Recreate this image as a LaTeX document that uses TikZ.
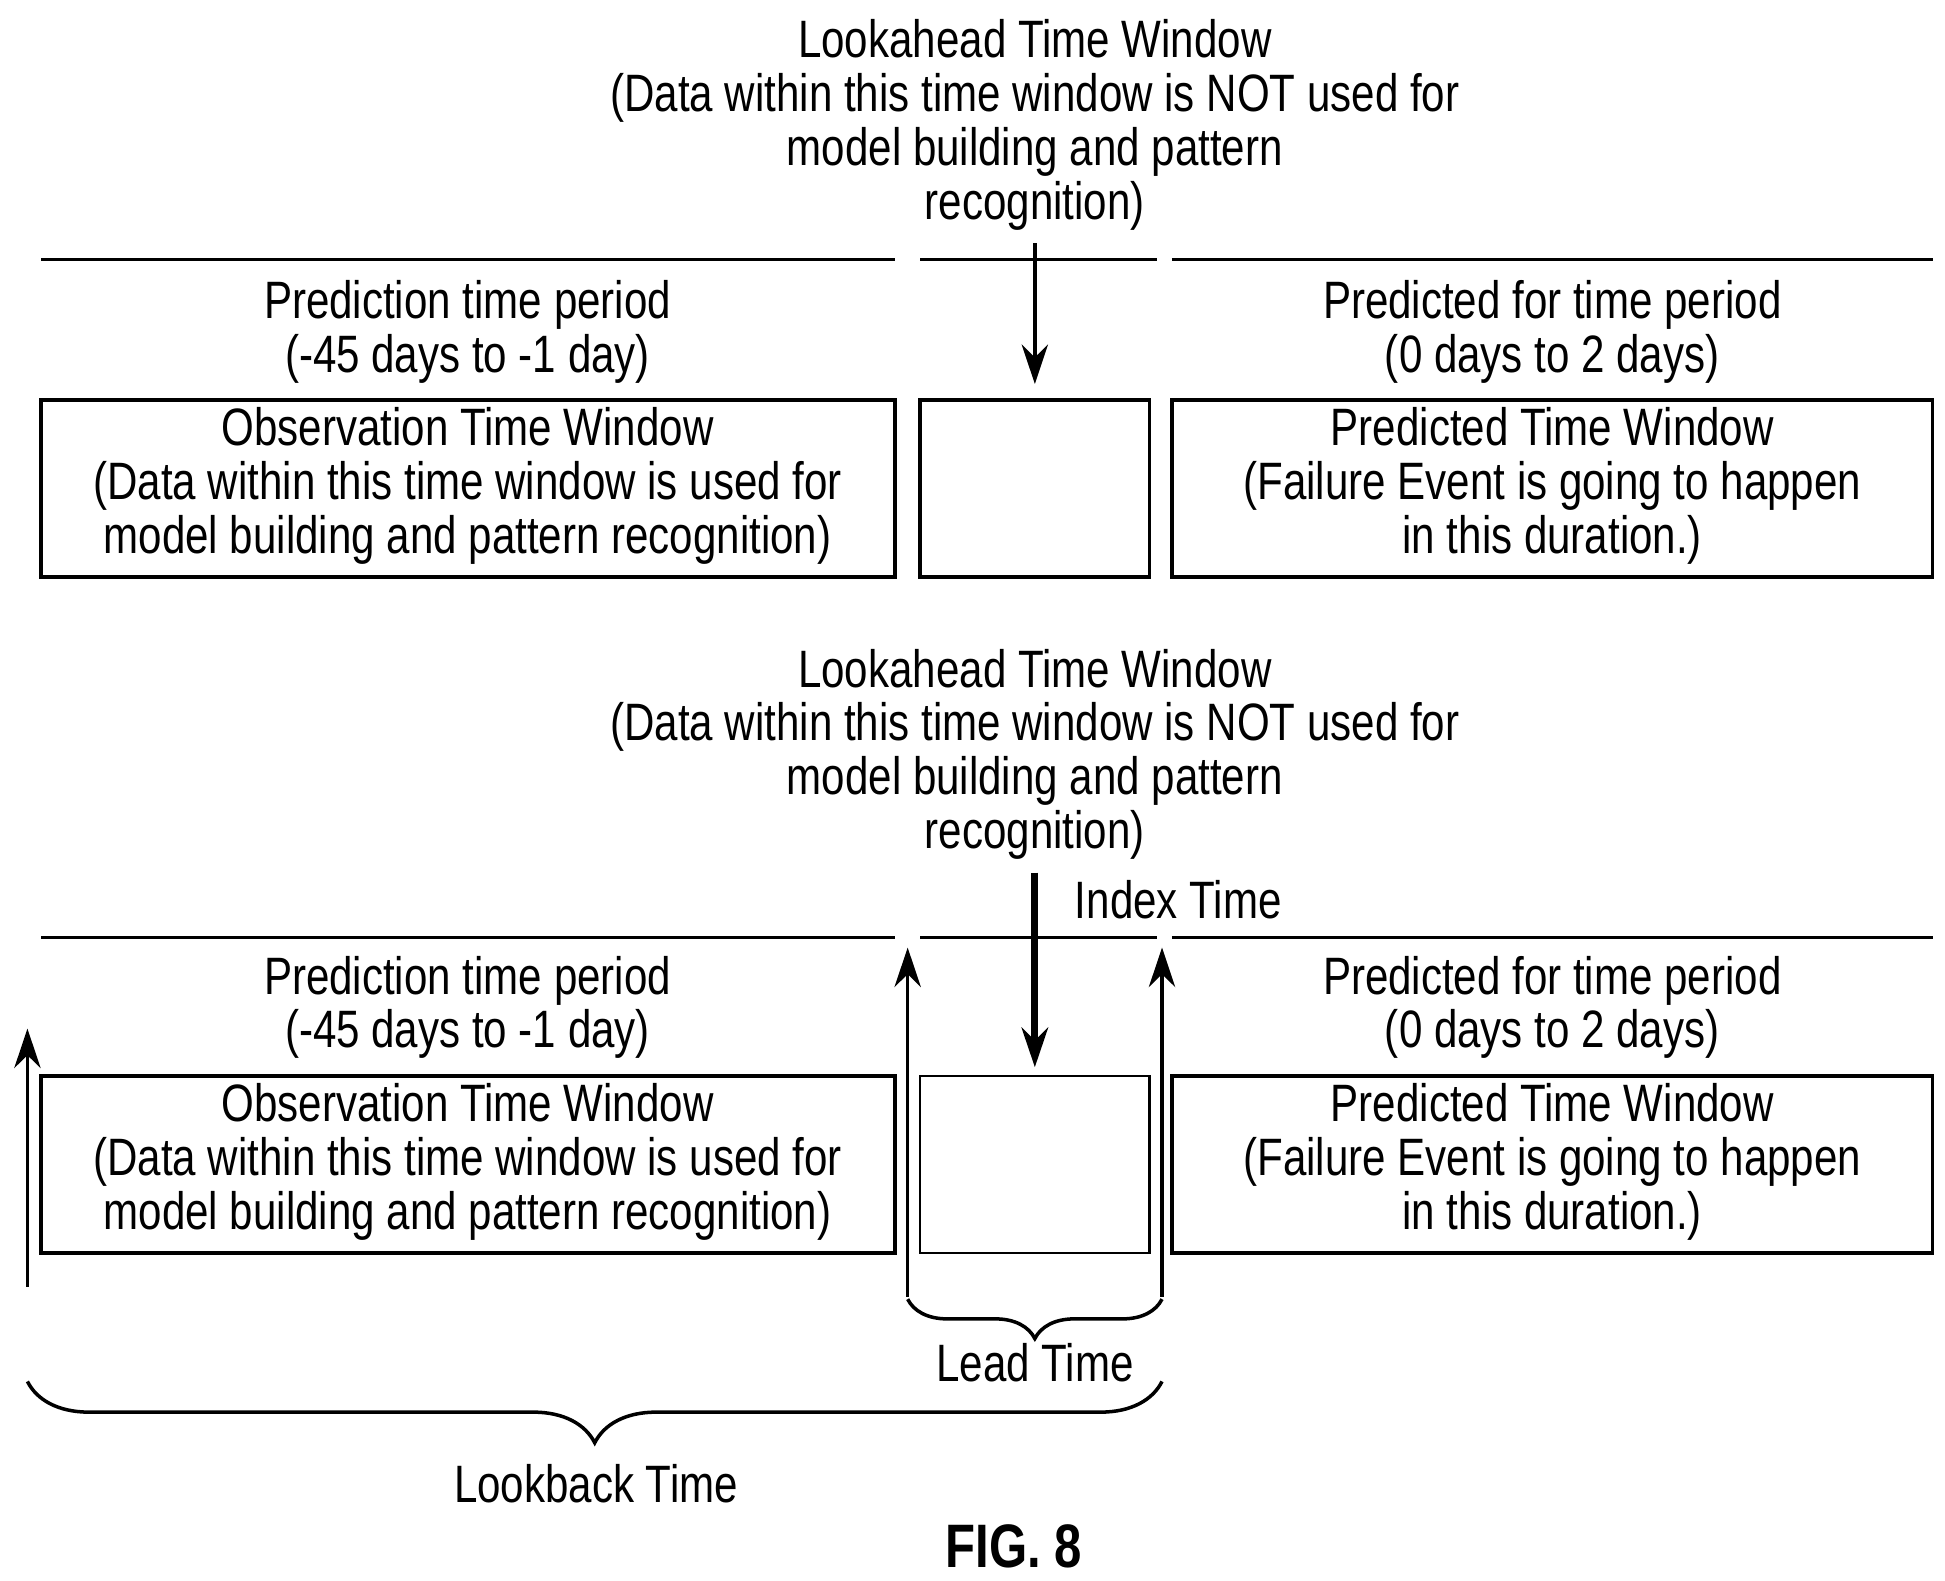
\documentclass[tikz,border=0pt]{standalone}
\usepackage{fontspec}
\setmainfont{Liberation Sans}[FakeStretch=0.8]
\usetikzlibrary{arrows.meta,decorations.pathreplacing}
\begin{document}
\begin{tikzpicture}[x=0.01cm,y=-0.01cm,
  every node/.style={font=\fontsize{12}{12.3}\selectfont,align=center,inner sep=0pt},
  win/.style={draw,line width=0.8pt},
  tl/.style={line width=0.8pt},
  ar/.style={line width=0.8pt,-{Stealth[length=9pt,width=6pt]}}]
\useasboundingbox (0,0) rectangle (1560,1268);
% top block
\node (tt1) at (830,100) {Lookahead Time Window\\(Data within this time window is NOT used for\\model building and pattern\\recognition)};
\draw [tl] (33,208) -- (718,208);
\draw [tl] (738,208) -- (928,208);
\draw [tl] (940,208) -- (1550,208);
\coordinate (a1) at (830,195);
\coordinate (b1) at (830,308);
\draw [ar] (a1) -- (b1);
\node (pp1) at (375,266) {Prediction time period\\(-45 days to -1 day)};
\node (pf1) at (1245,266) {Predicted for time period\\(0 days to 2 days)};
\draw [win] (33,321) rectangle (718,463);
\draw [win] (738,321) rectangle (922,463);
\draw [win] (940,321) rectangle (1550,463);
\node (ob1) at (375,390) {Observation Time Window\\(Data within this time window is used for\\model building and pattern recognition)};
\node (pw1) at (1245,390) {Predicted Time Window\\(Failure Event is going to happen\\in this duration.)};
% bottom block
\node (tt2) at (830,605) {Lookahead Time Window\\(Data within this time window is NOT used for\\model building and pattern\\recognition)};
\node (ix) at (945,722) {Index Time};
\draw [tl] (33,752) -- (718,752);
\draw [tl] (738,752) -- (928,752);
\draw [tl] (940,752) -- (1550,752);
\coordinate (a2) at (830,700);
\coordinate (b2) at (830,856);
\draw [ar,line width=1.6pt] (a2) -- (b2);
\coordinate (l0) at (728,1040);
\coordinate (l1) at (728,760);
\coordinate (r0) at (932,1040);
\coordinate (r1) at (932,760);
\coordinate (k0) at (22,1032);
\coordinate (k1) at (22,825);
\draw [ar] (l0) -- (l1);
\draw [ar] (r0) -- (r1);
\draw [ar] (k0) -- (k1);
\node (pp2) at (375,808) {Prediction time period\\(-45 days to -1 day)};
\node (pf2) at (1245,808) {Predicted for time period\\(0 days to 2 days)};
\draw [win] (33,863) rectangle (718,1005);
\draw [win,line width=0.5pt] (738,863) rectangle (922,1005);
\draw [win] (940,863) rectangle (1550,1005);
\node (ob2) at (375,932) {Observation Time Window\\(Data within this time window is used for\\model building and pattern recognition)};
\node (pw2) at (1245,932) {Predicted Time Window\\(Failure Event is going to happen\\in this duration.)};
% braces
\draw [tl,decorate,decoration={brace,mirror,amplitude=9pt}] (728,1042) -- (932,1042);
\node (ld) at (830,1093) {Lead Time};
\draw [tl,decorate,decoration={brace,mirror,amplitude=14pt}] (22,1108) -- (932,1108);
\node (lb) at (478,1190) {Lookback Time};
\node (fig) at (813,1240) {\fontsize{14}{14}\selectfont\bfseries FIG. 8};
\end{tikzpicture}
\end{document}
